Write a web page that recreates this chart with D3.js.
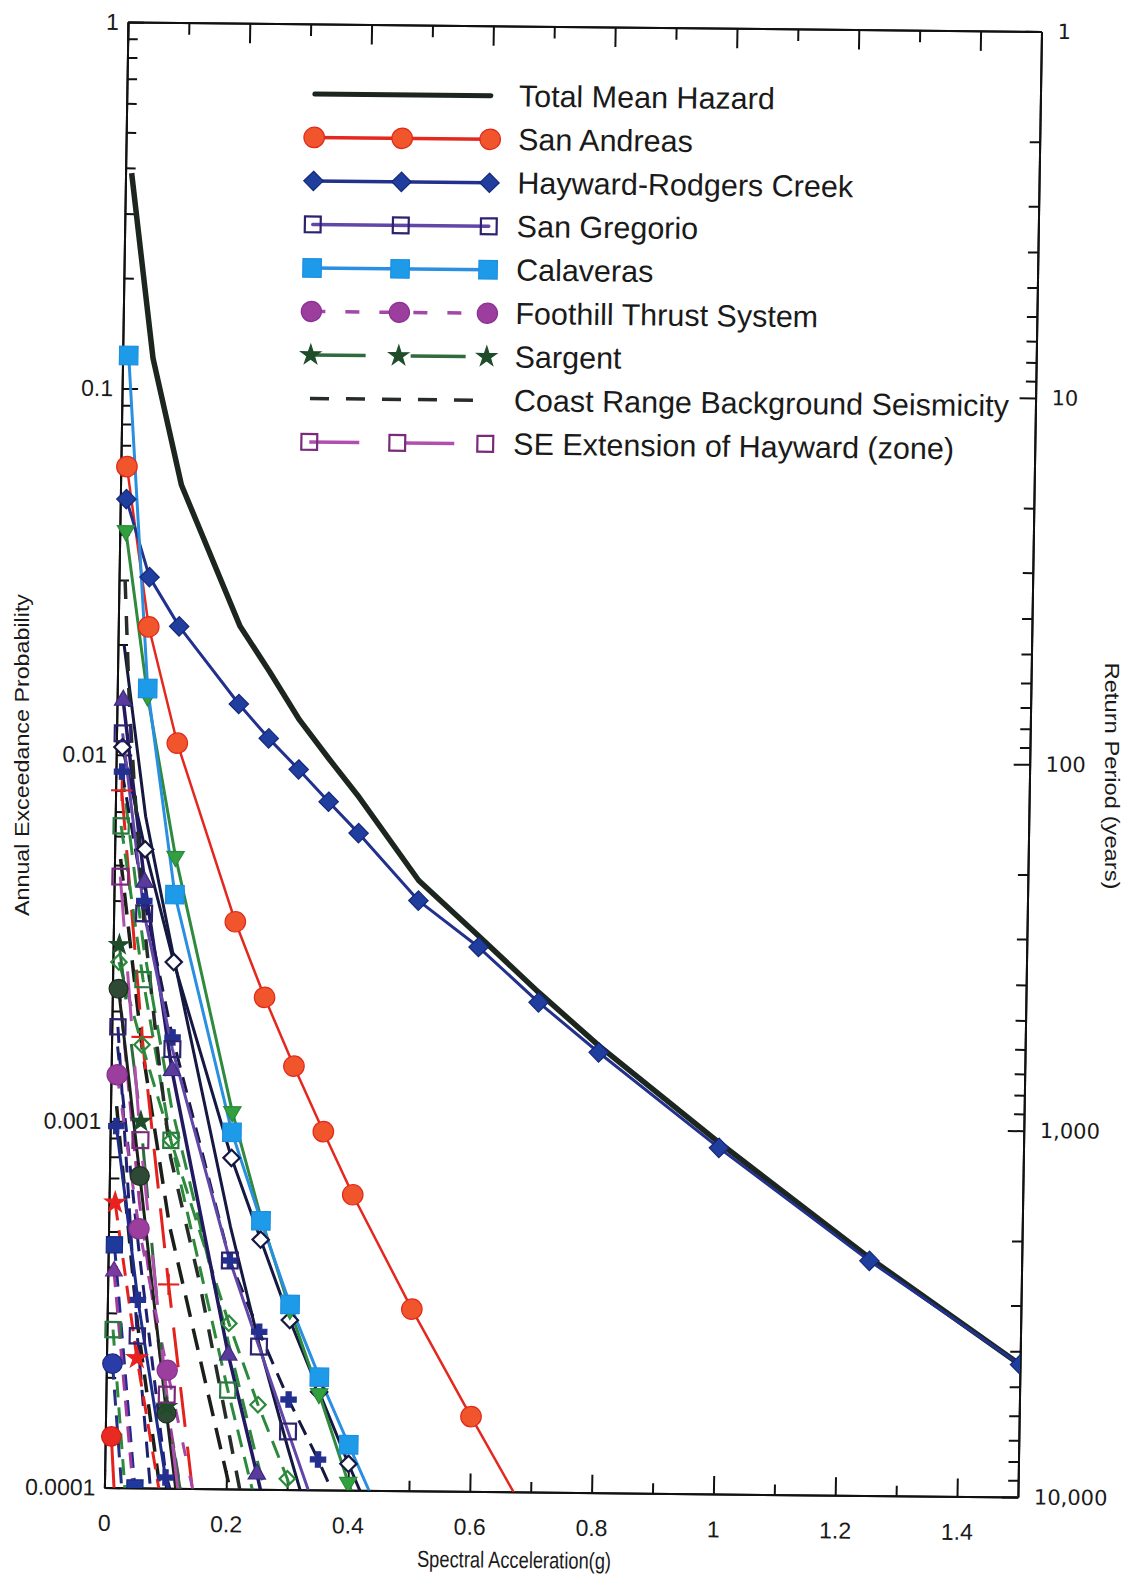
<!DOCTYPE html>
<html>
<head>
<meta charset="utf-8">
<script src="https://cdn.jsdelivr.net/npm/d3@7"></script>
<style>
body { margin: 0; background: #fff; }
text { font-family: "Liberation Sans", Arial, sans-serif; }
</style>
</head>
<body>
<script>

// spectral acceleration grids (g)
var gFull  = [0.01, 0.05, 0.1, 0.2, 0.25, 0.3, 0.35, 0.4, 0.5, 0.6, 0.7, 0.8, 1.0, 1.25, 1.5];
var gShort = [0.01, 0.05, 0.1, 0.2, 0.25, 0.3, 0.35, 0.4, 0.5];
var gCoast = [0.01, 0.02, 0.03, 0.05, 0.075, 0.1, 0.15, 0.2, 0.25];

// annual exceedance probability, legend sources
var totalMean   = [0.387, 0.121, 0.0547, 0.0226, 0.0170, 0.0126, 0.00986, 0.00778, 0.00463, 0.00328, 0.00231, 0.00166, 0.00091, 0.000445, 0.00023];
var sanAndreas  = [0.0612, 0.0224, 0.0108, 0.00353, 0.0022, 0.00143, 0.00095, 0.00064, 0.000313, 0.00016, 0.000083];
var hayward     = [0.0499, 0.0306, 0.0225, 0.01387, 0.0112, 0.00923, 0.00755, 0.00621, 0.00408, 0.00306, 0.00217, 0.00159, 0.00088, 0.000437, 0.00023];
var sanGregorio = [0.01145, 0.0037, 0.00158, 0.00042, 0.000245, 0.000144, 0.000085, 0.00005];
var calaveras   = [0.123, 0.0152, 0.00417, 0.00094, 0.00054, 0.00032, 0.000203, 0.000133, 0.000058];
var foothill    = [0.00134, 0.00051, 0.00021, 0.00004];
var sargent     = [0.00303, 0.0010, 0.000167, 0.00002];
var coastRange  = [0.03, 0.014, 0.0085, 0.0035, 0.0016, 0.0008, 0.00037, 0.00015, 0.00006];
var seExtension = [0.00465, 0.00089, 0.00018, 0.00001];

// other (unlabelled) sources drawn in the figure
var otherGreenTri     = [0.0409, 0.0145, 0.0053, 0.00107, 0.00055, 0.00031, 0.000183, 0.000105, 0.00004];
var otherTriangle     = [0.0141, 0.0045, 0.00138, 0.000232, 0.00011, 0.00005];
var otherOpenDiamond  = [0.0105, 0.00553, 0.00273, 0.0008, 0.00048, 0.00029, 0.000185, 0.000118, 0.00005];
var otherGreenDiamond = [0.00272, 0.00162, 0.00089, 0.000283, 0.00017, 0.000107, 0.00006];
var otherGreenSquare  = [0.0064, 0.00244, 0.00089, 0.000186, 0.00009];
var otherNavyCross    = [0.00097, 0.000326, 0.000107, 0.00002];
var otherNavyCross2   = [0.009, 0.004, 0.0017, 0.00042, 0.000269, 0.000176, 0.000121, 0.00008];
var otherRedStar      = [0.0006, 0.000226, 0.00008];
var otherRedPlus      = [0.008, 0.0017, 0.00036, 0.00002];
var otherRedCircle    = [0.000138, 0.000015];
var otherBlueCircle   = [0.000218, 0.00004];
var otherNavySquare   = [0.00046, 0.0001, 0.00002];
var otherPurpleTri    = [0.00039, 0.00009];
var otherDarkCircle   = [0.0023, 0.00071, 0.00016, 0.00001];
var otherGreenSquare2 = [0.00027, 0.00005];
var otherNavySquare2  = [0.00181, 0.00026, 0.00004];
var otherNavyLine     = [0.02, 0.0068, 0.0028, 0.00052, 0.00025, 0.00013, 0.00007];
var otherGreenDash    = [0.009, 0.003, 0.0011, 0.00025, 0.00012, 0.00006];
var otherNavyDash     = [0.0016, 0.00045, 0.00011, 0.00003];
var otherBlackDash    = [0.0052, 0.0016, 0.00052, 0.00011, 0.00005];
var otherBlackDash2   = [0.0011, 0.00028, 0.00008];
var otherMagentaDash  = [0.0024, 0.0006, 0.00017, 0.00002];

// axis ticks
var probTicks    = [1, 0.1, 0.01, 0.001, 0.0001];
var probLabels   = ["1", "0.1", "0.01", "0.001", "0.0001"];
var returnLabels = ["1", "10", "100", "1,000", "10,000"];
var accMajor = [0, 0.2, 0.4, 0.6, 0.8, 1, 1.2, 1.4];
var accMinor = [0.1, 0.3, 0.5, 0.7, 0.9, 1.1, 1.3];

var width = 1122, height = 1579;
var W = 913.5, H = 1465.6;

var svg = d3.select("body").append("svg")
  .attr("width", width)
  .attr("height", height);

// the scanned page is a little skewed, so the whole plot sits in a sheared group
var plot = svg.append("g")
  .attr("transform", "matrix(1,0.0104,-0.0161,1,128,22)");

var x = d3.scaleLinear().domain([0, 1.5]).range([0, W]);
var y = d3.scaleLog().domain([1e-4, 1]).range([H, 0]);

var minorProb = [];
var minorReturn = [];
for (var k = 1; k <= 4; k++) {
  for (var m = 2; m <= 9; m++) {
    minorProb.push(m * Math.pow(10, -k));
    minorReturn.push(1 / (m * Math.pow(10, k - 1)));
  }
}

var sym = {
  circle: d3.symbolCircle, diamond: d3.symbolDiamond2, square: d3.symbolSquare,
  triangle: d3.symbolTriangle, star: d3.symbolStar, cross: d3.symbolCross, plus: d3.symbolPlus
};

function mk(type, size, fill, stroke, rot) {
  return {type: type, size: size, fill: fill, stroke: stroke, rot: rot || 0};
}

// series table built from the arrays above
var others = [
  {p: otherNavyDash,     g: gShort, color: "#1d1f70", w: 3, dash: "14,10"},
  {p: otherGreenDash,    g: gShort, color: "#2d8a3c", w: 3, dash: "20,12"},
  {p: otherBlackDash,    g: gShort, color: "#1a1f1a", w: 3.5, dash: "22,12"},
  {p: otherBlackDash2,   g: gShort, color: "#1a1f1a", w: 3.5, dash: "18,12"},
  {p: otherMagentaDash,  g: gShort, color: "#a13a9e", w: 3, dash: "20,10"},
  {p: otherNavyLine,     g: gShort, color: "#151840", w: 3},
  {p: otherRedCircle,    g: gShort, color: "#e3221e", w: 3, m: mk("circle", 300, "#e82a22", "#d01a14")},
  {p: otherBlueCircle,   g: gShort, color: "#24307f", w: 3, dash: "16,10", m: mk("circle", 300, "#2a3ca8", "#1a2a80")},
  {p: otherNavySquare,   g: gShort, color: "#1d2b8a", w: 3, dash: "16,10", m: mk("square", 260, "#1e3a9c", "#142a80")},
  {p: otherPurpleTri,    g: gShort, color: "#a13a9e", w: 3, dash: "16,10", m: mk("triangle", 120, "#7a3aa0", "#5a2a80")},
  {p: otherGreenSquare2, g: gShort, color: "#2d8a3c", w: 3, dash: "16,10", m: mk("square", 230, "none", "#2a7a40")},
  {p: otherNavySquare2,  g: gShort, color: "#1d1f70", w: 3, dash: "16,10", m: mk("square", 230, "none", "#2c2470")},
  {p: otherDarkCircle,   g: gShort, color: "#1a221a", w: 3, m: mk("circle", 280, "#2f4a34", "#1e3022")},
  {p: otherRedStar,      g: gShort, color: "#e3221e", w: 3, dash: "18,10", m: mk("star", 130, "#e8201e", "#e8201e")},
  {p: otherRedPlus,      g: gShort, color: "#e3221e", w: 3, dash: "40,20", m: mk("plus", 150, "none", "#e3221e")},
  {p: otherNavyCross,    g: gShort, color: "#1d2b8a", w: 3, m: mk("cross", 130, "#24308f", "#24308f")},
  {p: otherNavyCross2,   g: gShort, color: "#151840", w: 3, dash: "16,10", m: mk("cross", 130, "#24308f", "#24308f")},
  {p: otherGreenSquare,  g: gShort, color: "#2d8a3c", w: 3, dash: "18,10", m: mk("square", 230, "none", "#2a7a40")},
  {p: otherGreenDiamond, g: gShort, color: "#2d8a3c", w: 3, dash: "18,10", m: mk("diamond", 150, "none", "#2a8a3a")},
  {p: otherOpenDiamond,  g: gShort, color: "#151840", w: 3, m: mk("diamond", 170, "#fff", "#151840")},
  {p: otherTriangle,     g: gShort, color: "#221a60", w: 3.5, m: mk("triangle", 130, "#5a3a9a", "#3a2a80")},
  {p: otherGreenTri,     g: gShort, color: "#2f8a3e", w: 3, m: mk("triangle", 130, "#33a040", "#2a8a38", 180)}
];

var sources = [
  {name: "Total Mean Hazard", p: totalMean, g: gFull, color: "#1c261f", w: 5.5},
  {name: "San Andreas", p: sanAndreas, g: gFull, color: "#e5281f", w: 2.5, m: mk("circle", 330, "#f1552b", "#e02a1c")},
  {name: "Hayward-Rodgers Creek", p: hayward, g: gFull, color: "#21318c", w: 3, m: mk("diamond", 240, "#1f3e9e", "#14287a")},
  {name: "San Gregorio", p: sanGregorio, g: gShort, color: "#6246a8", w: 3, m: mk("square", 250, "none", "#2c2270")},
  {name: "Calaveras", p: calaveras, g: gShort, color: "#2a8fe0", w: 3, m: mk("square", 340, "#1d9be9", "#1d8fe0")},
  {name: "Foothill Thrust System", p: foothill, g: gShort, color: "#a348a6", w: 3, dash: "14,20", m: mk("circle", 320, "#9b3e9e", "#8a3090")},
  {name: "Sargent", p: sargent, g: gShort, color: "#2f6b3c", w: 3, dash: "55,45", m: mk("star", 120, "#1f4d2a", "#1f4d2a")},
  {name: "Coast Range Background Seismicity", p: coastRange, g: gCoast, color: "#262d28", w: 3.5, dash: "19,17"},
  {name: "SE Extension of Hayward (zone)", p: seExtension, g: gShort, color: "#b24fae", w: 3, dash: "50,45", m: mk("square", 250, "none", "#7a2a7a")}
];

// ---- axes ----
function styleAxis(sel, size) {
  sel.selectAll(".domain").attr("stroke", "#111").attr("stroke-width", 2);
  sel.selectAll(".tick line").attr("stroke", "#111").attr("stroke-width", 2);
  sel.selectAll("text").attr("fill", "#1a1a1a").style("font-size", size + "px");
  sel.attr("font-family", null).attr("font-size", null);
}

var leftAxis = plot.append("g")
  .call(d3.axisLeft(y).tickValues(probTicks).tickSize(-16).tickSizeOuter(0).tickPadding(9)
    .tickFormat(function(d, i) { return probLabels[i]; }));
styleAxis(leftAxis, 23);
var leftMinor = plot.append("g")
  .call(d3.axisLeft(y).tickValues(minorProb).tickSize(-10).tickSizeOuter(0).tickFormat(""));
styleAxis(leftMinor, 10);

var rightAxis = plot.append("g")
  .attr("transform", "translate(" + W + ",0)")
  .call(d3.axisRight(y).tickValues(probTicks).tickSize(-16).tickSizeOuter(0).tickPadding(16)
    .tickFormat(function(d, i) { return returnLabels[i]; }));
styleAxis(rightAxis, 21);
rightAxis.selectAll("text").style("font-family", "'DejaVu Sans', sans-serif");
var rightMinor = plot.append("g")
  .attr("transform", "translate(" + W + ",0)")
  .call(d3.axisRight(y).tickValues(minorReturn).tickSize(-10).tickSizeOuter(0).tickFormat(""));
styleAxis(rightMinor, 10);

var bottomAxis = plot.append("g")
  .attr("transform", "translate(0," + H + ")")
  .call(d3.axisBottom(x).tickValues(accMajor).tickSize(-18).tickSizeOuter(0).tickPadding(27)
    .tickFormat(d3.format("")));
styleAxis(bottomAxis, 23);
var bottomMinor = plot.append("g")
  .attr("transform", "translate(0," + H + ")")
  .call(d3.axisBottom(x).tickValues(accMinor).tickSize(-10).tickSizeOuter(0).tickFormat(""));
styleAxis(bottomMinor, 10);

var topAxis = plot.append("g")
  .call(d3.axisTop(x).tickValues(accMajor).tickSize(-20).tickSizeOuter(0).tickFormat(""));
styleAxis(topAxis, 10);
var topMinor = plot.append("g")
  .call(d3.axisTop(x).tickValues(accMinor).tickSize(-12).tickSizeOuter(0).tickFormat(""));
styleAxis(topMinor, 10);

plot.append("text")
  .attr("x", x(0.75) - 46)
  .attr("y", H + 76)
  .attr("text-anchor", "middle")
  .attr("textLength", 194)
  .attr("lengthAdjust", "spacingAndGlyphs")
  .style("font-size", "23px")
  .attr("fill", "#1a1a1a")
  .text("Spectral Acceleration(g)");

svg.append("text")
  .attr("transform", "translate(29,755) rotate(-90)")
  .attr("text-anchor", "middle")
  .attr("textLength", 322)
  .attr("lengthAdjust", "spacingAndGlyphs")
  .style("font-size", "20px")
  .attr("fill", "#1a1a1a")
  .text("Annual Exceedance Probability");

svg.append("text")
  .attr("transform", "translate(1105,776) rotate(90)")
  .attr("text-anchor", "middle")
  .attr("textLength", 227)
  .attr("lengthAdjust", "spacingAndGlyphs")
  .style("font-size", "20px")
  .attr("fill", "#1a1a1a")
  .text("Return Period (years)");

// ---- curves ----
plot.append("clipPath").attr("id", "clip")
  .append("rect").attr("x", -40).attr("y", -40).attr("width", W + 40).attr("height", H + 40);

var curves = plot.append("g").attr("clip-path", "url(#clip)");

var line = d3.line()
  .x(function(d) { return x(d[0]); })
  .y(function(d) { return y(d[1]); });

function pairs(s) {
  return s.p.map(function(v, i) { return [s.g[i], v]; });
}

function drawMarker(sel, m, px, py) {
  sel.append("path")
    .attr("d", d3.symbol().type(sym[m.type]).size(m.size))
    .attr("transform", "translate(" + px + "," + py + ") rotate(" + m.rot + ")")
    .attr("fill", m.fill)
    .attr("stroke", m.stroke)
    .attr("stroke-width", m.fill == "none" || m.fill == "#fff" ? 2.2 : 1.2);
}

var drawOrder = others.concat(sources);

drawOrder.forEach(function(s) {
  curves.append("path")
    .attr("d", line(pairs(s)))
    .attr("fill", "none")
    .attr("stroke", s.color)
    .attr("stroke-width", s.w)
    .attr("stroke-dasharray", s.dash || null)
    .attr("stroke-linejoin", "round");
});

drawOrder.forEach(function(s) {
  if (!s.m) return;
  pairs(s).forEach(function(d) {
    drawMarker(curves, s.m, x(d[0]), y(d[1]));
  });
});

// ---- legend ----
var legend = plot.append("g");
var legX = [188, 276, 364];

sources.forEach(function(s, i) {
  var ry = 70 + i * 43.5;
  legend.append("line")
    .attr("x1", legX[0]).attr("x2", legX[2])
    .attr("y1", ry).attr("y2", ry)
    .attr("stroke", s.color)
    .attr("stroke-width", s.w == 5.5 ? 5 : 3.5)
    .attr("stroke-linecap", s.dash ? "butt" : "round")
    .attr("stroke-dasharray", s.dash || null);
  if (s.m) {
    legX.forEach(function(lx) { drawMarker(legend, s.m, lx, ry); });
  }
  legend.append("text")
    .attr("x", 392)
    .attr("y", ry + 10.5)
    .style("font-size", "30.5px")
    .attr("fill", "#1a1a1a")
    .text(s.name);
});

</script>
</body>
</html>
